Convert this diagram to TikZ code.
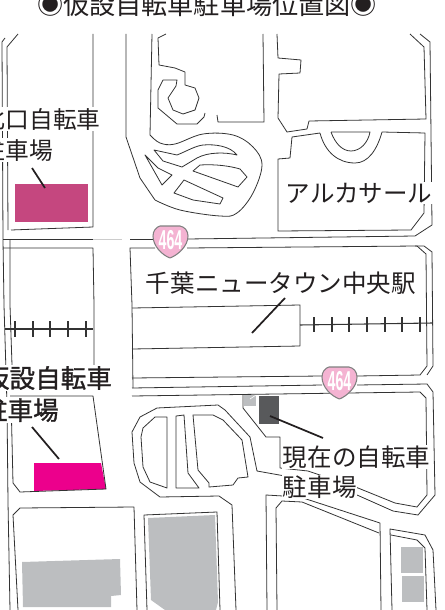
\documentclass[tikz,border=0pt]{standalone}
\usepackage{fontspec}
\setmainfont{Noto Sans CJK JP}
\newfontfamily\medfont[FakeBold=1.2]{Noto Sans CJK JP}
\newfontfamily\shieldfont{Liberation Sans Bold}
\definecolor{linec}{HTML}{333333}
\definecolor{magA}{HTML}{C5477F}
\definecolor{magB}{HTML}{EC008C}
\definecolor{darkb}{HTML}{58595B}
\definecolor{greyb}{HTML}{BCBEC0}
\definecolor{pinks}{HTML}{F4B3D2}
\definecolor{textc}{HTML}{231F20}
\tikzset{
 road/.style={draw=linec,line width=0.6pt,line join=round},
 leader/.style={draw=textc,line width=1.3pt},
 rail/.style={draw=linec,line width=0.8pt},
 lbl/.style={anchor=west,inner sep=0.5pt,fill=white,text=textc,font=\fontsize{18.4}{18.4}\selectfont},
 lbls/.style={anchor=west,inner sep=0.5pt,fill=white,text=textc,font=\fontsize{17.8}{17.8}\selectfont},
 lblb/.style={anchor=west,inner sep=0.5pt,fill=white,text=textc,font=\medfont\fontsize{19.2}{19.2}\selectfont},
 shield/.style={draw=gray,line width=0.8pt,fill=pinks,line join=round},
 shieldnum/.style={text=white,inner sep=0,xscale=.52,font=\shieldfont\fontsize{20.5}{20.5}\selectfont}
}
\begin{document}
\begin{tikzpicture}[x=0.75pt,y=-0.75pt]
\useasboundingbox (0,0) rectangle (445,610);
\clip (0,0) rectangle (445,610);
% fills
\fill[magA] (15,184) rectangle (88,222);
\fill[magB] (34,463) -- (101,463) -- (106,489) -- (34,491) -- cycle;
\fill[darkb] (259,396) rectangle (279,424);
\fill[greyb] (244,395) rectangle (256,406);
\draw[white,line width=0.5pt] (250,399) -- (256,395);
\fill[greyb] (22,562) -- (120,559) -- (121,595) -- (111,596) -- (111,607) -- (23,607) -- cycle;
\fill[greyb] (148,518) -- (215,515) -- (218,602) -- (216,610) -- (165,610) -- (151,600) -- cycle;
\fill[greyb] (401,547) rectangle (423,573);
\fill[greyb] (402,576) rectangle (424,602);
% left roads
\draw[road] (5,38) -- (2,42) -- (3,240) -- (4,305) -- (7,405) -- (8,502) -- (10,610);
\draw[road] (18,34) -- (7,47) -- (8,230);
\draw[road] (93,34) -- (93,227) -- (11,230);
\draw[road] (3,239) -- (93,239);
\draw[road] (3,248) -- (93,248) -- (94,305) -- (94,367);
\draw[road] (10,240) -- (10,305) -- (12,365);
\draw[draw=gray!40,line width=0.6pt] (93,239) -- (122,239);
\draw[road] (10,396) -- (93,396) -- (106,489) -- (20,492) -- (13,483) -- (11,398);
\draw[road] (18,610) -- (13,515) -- (20,508) -- (134,507) -- (137,610);
\draw[road] (147,610) -- (144,515) -- (217,512) -- (220,610);
% main horizontal roads
\draw[road] (130,239) -- (153,239);
\draw[road] (187,239) -- (415,236) -- (432,225) -- (430,42) -- (420,34);
\draw[road] (132,305) -- (130,248) -- (155,248);
\draw[road] (187,248) -- (417,246) -- (426,254) -- (427,366) -- (420,375) -- (357,376);
\draw[road] (415,246) -- (424,246) -- (432,252) -- (433,366) -- (427,375);
\draw[road] (132,305) -- (133,388);
\draw[road] (132,378) -- (322,376);
\draw[road] (132,388) -- (322,385);
\draw[road] (357,385) -- (427,384) -- (433,392) -- (435,495) -- (418,515) -- (393,511) -- (357,495);
\draw[road] (132,396) -- (420,392) -- (426,398) -- (427,495) -- (417,507) -- (395,503) -- (358,488);
% station
\draw[road] (132,308) -- (300,305) -- (300,346) -- (132,349);
% top centre block
\draw[road] (126,34) -- (126,137) -- (140,178) -- (155,200)
  plot[smooth,tension=0.6] coordinates {(155,200) (180,210) (220,216) (237,213) (253,193) (262,165) (253,147) (233,135) (203,134) (175,144) (160,143) (150,135)}
  -- (152,34);
\draw[road] (263,34) -- (264,122) -- (218,122) -- (217,115);
\draw[road] (205,113) -- (204,117) -- (197,124) -- (177,124) -- (158,108) -- (158,90) -- (163,80) -- (177,80)
  -- (176,86) -- (168,98) -- (173,110) -- (183,114) -- (195,110) -- (199,98) -- (195,88) -- (185,85) -- (185,72) -- (175,68) -- (159,65) -- (158,38) -- (166,34);
\draw[road] (145,155) -- (158,168) -- (172,175) -- (162,185) -- cycle;
\draw[road] (154,150) -- (177,155) .. controls (187,151) and (195,146) .. (203,145) .. controls (215,144) and (230,146) .. (237,155)
  .. controls (225,152) and (208,152) .. (197,158) -- (182,167) -- (163,161) -- cycle;
\draw[road] (193,171) -- (200,165) .. controls (215,164) and (230,166) .. (240,169) -- (247,177) -- (238,187) -- cycle;
\draw[road] (174,193) -- (184,180) -- (223,198) -- (220,204) -- (193,200) -- cycle;
% top right blocks
\draw[road] (277,34) -- (278,58) -- (301,60) -- (300,73) -- (279,74) -- (278,118) -- (287,132) -- (307,129) -- (309,121) -- (426,119) -- (424,47) -- (410,34);
\draw[road] (320,133) -- (292,137) -- (290,158) -- (278,159) -- (278,231) -- (411,230) -- (424,213) -- (425,133) -- (382,132)
  .. controls (377,150) and (368,163) .. (355,163) .. controls (338,163) and (325,152) .. (320,133);
\draw[road] (331,132) -- (370,132) .. controls (368,143) and (360,151) .. (351,151) .. controls (342,151) and (335,143) .. (331,132);
% lower middle
\draw[road] (285,476) -- (257,471) -- (250,437) -- (225,410) -- (218,405) -- (157,408) -- (140,417) -- (132,432) -- (134,463) -- (140,482) -- (160,497) -- (219,496) -- (232,505) -- (236,610);
\draw[road] (167,417) -- (155,417) -- (143,428) -- (141,437) -- (143,467) -- (150,482) -- (167,488) -- cycle;
\draw[road] (176,416) -- (184,415) -- (188,473) -- (199,488) -- (176,488) -- cycle;
\draw[road] (193,415) -- (213,415) -- (223,420) -- (242,440) -- (248,477) -- (238,478) -- (233,485) -- (209,487) -- (209,483) -- (198,470) -- cycle;
\draw[road] (243,394) -- (243,408) -- (266,437) -- (280,437) -- (280,468) -- (308,471) -- (358,488);
\draw[road] (267,610) -- (266,495) -- (300,497) -- (380,523) -- (381,610);
\draw[road] (277,610) -- (276,508) -- (282,501) -- (302,502) -- (379,533);
\draw[road] (392,610) -- (390,529) -- (425,535) -- (433,550) -- (436,610);
\draw[road] (391,535) -- (417,540) -- (425,548) -- (427,610);
% rails
\draw[rail] (5,329) -- (93,329);
\foreach \tx in {15,33,50,68,86} \draw[rail] (\tx,321) -- (\tx,337);
\draw[rail] (300,325) -- (432,323);
\foreach \tx in {314,332,349,367,385,402,420} \draw[rail] (\tx,317) -- (\tx,332);
% labels
\node[anchor=center,inner sep=0,text=textc,font=\fontsize{19.6}{19.6}\selectfont] (title) at (207,4.5) {◉仮設自転車駐車場位置図◉};
\node[lbls] (kita1) at (-19,119) {北口自転車};
\node[lbls] (kita2) at (-19,150) {駐車場};
\node[lblb] (kari1) at (-17,378) {仮設自転車};
\node[lblb] (kari2) at (-19,410) {駐車場};
\node[lbl] (arca) at (285,193) {アルカサール};
\node[lbl] (stn) at (145,283) {千葉ニュータウン中央駅};
\node[lbl] (gen1) at (282,457) {現在の自転車};
\node[lbl] (gen2) at (282,487) {駐車場};
% leaders
\coordinate (a1) at (32,168); \coordinate (a2) at (45,188);
\coordinate (b1) at (32,427); \coordinate (b2) at (59,459);
\coordinate (c1) at (270,416); \coordinate (c2) at (323,438);
\coordinate (d1) at (252,333); \coordinate (d2) at (285,298);
\draw[leader] (a1) -- (a2);
\draw[leader] (b1) -- (b2);
\draw[leader] (c1) -- (c2);
\draw[leader] (d1) -- (d2);
% shields
\draw[shield] (153,236) .. controls (153,231) and (156,227) .. (160,226) -- (180,226) .. controls (185,227) and (188,231) .. (188,236) .. controls (188,246) and (178,255) .. (170,258) .. controls (162,255) and (153,246) .. (153,236) -- cycle;
\node[shieldnum] (s1) at (170.5,240) {464};
\draw[shield] (322,377) .. controls (322,372) and (325,368) .. (329,367) -- (349,367) .. controls (354,368) and (357,372) .. (357,377) .. controls (357,387) and (347,396) .. (339.5,399) .. controls (331,396) and (322,387) .. (322,377) -- cycle;
\node[shieldnum] (s2) at (339.5,381) {464};
\end{tikzpicture}
\end{document}
